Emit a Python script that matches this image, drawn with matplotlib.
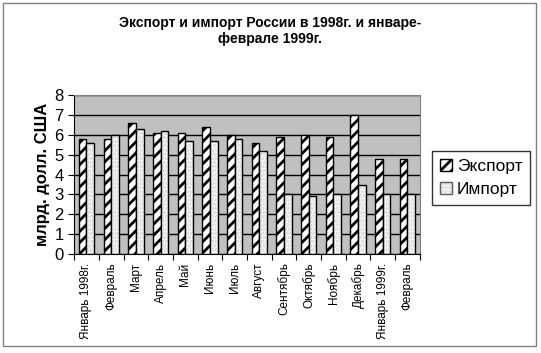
import matplotlib.pyplot as plt
import numpy as np
from matplotlib.patches import Rectangle, Patch
from matplotlib.legend_handler import HandlerTuple

plt.rcParams["font.family"] = ["Liberation Sans", "DejaVu Sans"]
plt.rcParams["hatch.linewidth"] = 2.0

months = ["Январь 1998г.", "Февраль", "Март", "Апрель", "Май", "Июнь", "Июль",
          "Август", "Сентябрь", "Октябрь", "Ноябрь", "Декабрь", "Январь 1999г.", "Февраль"]
export = [5.8, 5.8, 6.6, 6.1, 6.1, 6.4, 6.0, 5.6, 5.9, 6.0, 5.9, 7.0, 4.8, 4.8]
imports = [5.6, 6.0, 6.3, 6.2, 5.7, 5.7, 5.8, 5.2, 3.0, 2.9, 3.0, 3.5, 3.0, 3.0]

fig = plt.figure(figsize=(5.41, 3.53), dpi=100)
fig.patch.set_facecolor("white")
fig.add_artist(Rectangle((0.006, 0.02), 0.984, 0.972, transform=fig.transFigure,
                         fill=False, edgecolor="#808080", linewidth=1))

ax = fig.add_axes([0.137, 0.28, 0.639, 0.451])
ax.set_facecolor("#C0C0C0")

x = np.arange(len(months))
w = 0.31
ax.bar(x - w / 2, export, w, color="white", edgecolor="black", hatch="///",
       linewidth=1, zorder=3)
# dotted fill for import, outline drawn separately in black
ax.bar(x + w / 2, imports, w, color="white", edgecolor="#D4D4D4", hatch="....",
       linewidth=0, zorder=3)
ax.bar(x + w / 2, imports, w, fill=False, edgecolor="black", linewidth=1, zorder=4)

ax.set_ylim(0, 8)
ax.set_xlim(-0.5, len(months) - 0.5)
ax.set_yticks(range(9))
ax.yaxis.grid(True, color="black", linewidth=1)
ax.set_axisbelow(True)
ax.tick_params(axis="y", labelsize=12, direction="out", length=4)

ax.set_xticks(np.arange(len(months) + 1) - 0.5)
ax.set_xticklabels([])
ax.set_xticks(x, minor=True)
ax.set_xticklabels(months, minor=True, rotation=90, fontsize=8.5)
ax.tick_params(axis="x", which="major", direction="out", length=4)
ax.tick_params(axis="x", which="minor", length=0, pad=6)

for s in ["top", "right"]:
    ax.spines[s].set_color("#808080")
ax.spines["left"].set_color("black")
ax.spines["bottom"].set_color("black")

ax.set_ylabel("млрд. долл. США", fontsize=12, fontweight="bold", labelpad=3)
fig.suptitle("Экспорт и импорт России в 1998г. и январе-\nфеврале 1999г.",
             x=0.5, y=0.955, fontsize=10, fontweight="bold")

h_exp = Patch(facecolor="white", edgecolor="black", hatch="///")
h_imp = (Patch(facecolor="white", edgecolor="#D4D4D4", hatch="...."),
         Patch(fill=False, edgecolor="#606060", linewidth=1))
leg = fig.legend([h_exp, h_imp], ["Экспорт", "Импорт"], loc="upper left",
                 bbox_to_anchor=(0.782, 0.597), fontsize=12.5, frameon=True,
                 fancybox=False, edgecolor="black", handlelength=0.7,
                 handleheight=0.7, handletextpad=0.3, borderpad=0.45,
                 labelspacing=0.45,
                 handler_map={tuple: HandlerTuple(ndivide=1, pad=0)})
leg.get_frame().set_linewidth(1)

fig.savefig("out.png", dpi=100)
